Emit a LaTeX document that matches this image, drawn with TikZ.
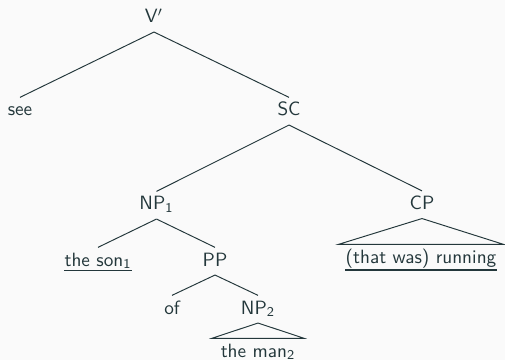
\documentclass[tikz,border=0pt]{standalone}
\usepackage{xcolor}
\definecolor{mteal}{HTML}{23373B}
\definecolor{mbg}{HTML}{FAFAFA}
\begin{document}
\begin{tikzpicture}[x=0.52pt,y=-0.52pt,
  lab/.style={anchor=base, font=\sffamily\fontsize{10}{12}\selectfont, text=mteal,
    text height=7pt, text depth=2pt, inner ysep=2.5pt, inner xsep=0pt},
  branch/.style={draw=mteal, line width=0.5pt},
  uline/.style={draw=mteal, line width=0.6pt}]
\fill[mbg] (0,0) rectangle (505,360);
\useasboundingbox (0,0) rectangle (505,360);

\node[lab] (vbar) at (154,23) {V$'$};
\node[lab] (see)  at (20,116) {see};
\node[lab] (sc)   at (289,116) {SC};
\node[lab] (np1)  at (156.5,210) {NP\textsubscript{1}};
\node[lab] (cp)   at (422,209.5) {CP};
\node[lab] (son)  at (98,266) {the son\textsubscript{1}};
\node[lab] (pp)   at (215,266) {PP};
\node[lab] (run)  at (421,263) {(that was) running};
\node[lab] (of)   at (172,314) {of};
\node[lab] (np2)  at (258,314) {NP\textsubscript{2}};
\node[lab] (man)  at (258,357) {the man\textsubscript{2}};

\draw[branch] (vbar.south) -- (see.north);
\draw[branch] (vbar.south) -- (sc.north);
\draw[branch] (sc.south) -- (np1.north);
\draw[branch] (sc.south) -- (cp.north);
\draw[branch] (np1.south) -- (son.north);
\draw[branch] (np1.south) -- (pp.north);
\draw[branch] (pp.south) -- (of.north);
\draw[branch] (pp.south) -- (np2.north);
\draw[branch] ([xshift=-3.5pt]run.north west) -- (cp.south) -- ([xshift=3.5pt]run.north east) -- cycle;
\draw[branch] ([xshift=-4.5pt]man.north west) -- (np2.south) -- ([xshift=4.5pt]man.north east) -- cycle;

\draw[uline] ([yshift=-2.4pt]son.base west) -- ([yshift=-2.4pt]son.base east);
\draw[uline] ([yshift=-3.6pt]run.base west) -- ([yshift=-3.6pt]run.base east);
\end{tikzpicture}
\end{document}
